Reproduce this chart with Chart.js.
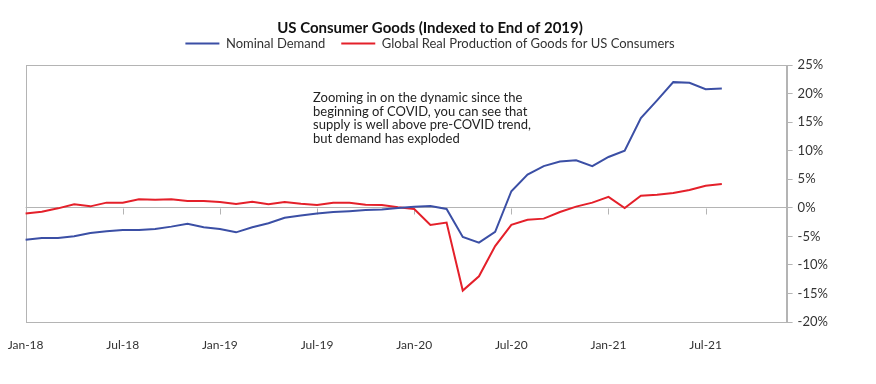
<!DOCTYPE html>
<html>
<head>
<meta charset="utf-8">
<script src="https://cdn.jsdelivr.net/npm/chart.js@4.4.1/dist/chart.umd.min.js"></script>
<style>
  html, body { margin: 0; padding: 0; background: #fff; }
  #wrap { width: 876px; height: 384px; }
</style>
</head>
<body>
<div id="wrap"><canvas id="c" width="876" height="384"></canvas></div>
<script>
// Monthly categories Jan-18 .. Dec-21 (axis extends past the data)
const months = ['Jan','Feb','Mar','Apr','May','Jun','Jul','Aug','Sep','Oct','Nov','Dec'];
const years = ['18','19','20','21'];
const categories = [];
years.forEach(y => months.forEach(m => categories.push(m + '-' + y)));

// Nominal Demand (% vs end of 2019), Jan-18 .. Aug-21
const nominalDemand = [
  -5.6, -5.3, -5.3, -5.0, -4.4, -4.1, -3.9, -3.9, -3.7, -3.3, -2.8, -3.4,
  -3.7, -4.3, -3.4, -2.7, -1.75, -1.35, -1.0, -0.75, -0.6, -0.4, -0.3, -0.05,
  0.2, 0.3, -0.2, -5.1, -6.1, -4.2, 2.9, 5.8, 7.3, 8.1, 8.3, 7.3,
  8.9, 10.0, 15.7, 18.8, 22.0, 21.9, 20.75, 20.9
];
// Global Real Production of Goods for US Consumers
const globalProduction = [
  -1.0, -0.7, -0.1, 0.6, 0.25, 0.9, 0.9, 1.5, 1.4, 1.5, 1.2, 1.2,
  1.0, 0.65, 1.05, 0.6, 1.0, 0.7, 0.5, 0.9, 0.9, 0.55, 0.5, 0.1,
  -0.2, -3.0, -2.6, -14.5, -12.0, -6.7, -3.0, -2.1, -1.9, -0.75, 0.2, 0.9,
  1.9, -0.05, 2.1, 2.3, 2.6, 3.1, 3.85, 4.15
];
const yTicks = [25, 20, 15, 10, 5, 0, -5, -10, -15, -20];
const labelEvery = 6;

const GRAY = '#b4b4b4';
const TEXT = '#333333';

const framePlugin = {
  id: 'frame',
  beforeDatasetsDraw(chart) {
    const { ctx, chartArea: a, scales } = chart;
    ctx.save();
    ctx.strokeStyle = GRAY;
    ctx.lineWidth = 1;
    ctx.strokeRect(Math.round(a.left) + 0.5, Math.round(a.top) + 0.5,
                   Math.round(a.right - a.left), Math.round(a.bottom - a.top));
    // ticks on the zero line for the x axis
    const y0 = Math.round(scales.y.getPixelForValue(0)) + 0.5;
    ctx.beginPath();
    for (let i = labelEvery; i < nominalDemand.length; i += labelEvery) {
      const x = Math.round(scales.x.getPixelForValue(i)) + 0.5;
      ctx.moveTo(x, y0);
      ctx.lineTo(x, y0 + 6);
    }
    ctx.stroke();
    ctx.restore();
  },
  afterDraw(chart) {
    const { ctx } = chart;
    ctx.save();
    ctx.fillStyle = '#222';
    ctx.font = '13px Lato';
    ctx.textBaseline = 'middle';
    const lines = [
      'Zooming in on the dynamic since the',
      'beginning of COVID, you can see that',
      'supply is well above pre-COVID trend,',
      'but demand has exploded'
    ];
    lines.forEach((t, k) => ctx.fillText(t, 313, 98 + k * 13.5));
    ctx.restore();
  }
};

new Chart(document.getElementById('c'), {
  type: 'line',
  data: {
    labels: categories,
    datasets: [
      {
        label: 'Nominal Demand',
        data: nominalDemand,
        xAxisID: 'x',
        yAxisID: 'y',
        borderColor: '#3b4fa5',
        backgroundColor: '#3b4fa5',
        borderWidth: 2,
        pointRadius: 0,
        tension: 0
      },
      {
        label: 'Global Real Production of Goods for US Consumers',
        data: globalProduction,
        xAxisID: 'x',
        yAxisID: 'y',
        borderColor: '#e4202a',
        backgroundColor: '#e4202a',
        borderWidth: 2,
        pointRadius: 0,
        tension: 0
      }
    ]
  },
  options: {
    responsive: false,
    animation: false,
    layout: { padding: { left: 0, right: 16, top: 0, bottom: 0 } },
    plugins: {
      title: {
        display: true,
        text: 'US Consumer Goods (Indexed to End of 2019)',
        color: '#111',
        font: { family: 'Lato', size: 15, weight: 'bold' },
        padding: { top: 19, bottom: -16 }
      },
      legend: {
        display: true,
        labels: {
          color: TEXT,
          font: { family: 'Lato', size: 13 },
          boxWidth: 34,
          boxHeight: 0,
          padding: 16
        }
      },
      tooltip: { enabled: false }
    },
    scales: {
      x2: {
        type: 'category',
        position: 'top',
        display: true,
        grid: { display: false },
        border: { display: false },
        ticks: { display: false },
        afterFit: s => { s.height = 5; }
      },
      x: {
        type: 'category',
        offset: false,
        grid: { display: false },
        border: { display: false },
        ticks: {
          autoSkip: false,
          maxRotation: 0,
          color: TEXT,
          font: { family: 'Lato', size: 12 },
          padding: 8,
          callback: (v, i) => (i % labelEvery === 0 ? categories[i] : '')
        },
        afterFit: s => { s.height = 62; s.paddingLeft = 0; s.paddingRight = 0; }
      },
      yLeft: {
        type: 'linear',
        position: 'left',
        display: true,
        grid: { display: false },
        border: { display: false },
        ticks: { display: false },
        afterFit: s => { s.width = 25.6; }
      },
      y: {
        position: 'right',
        min: -20,
        max: 25,
        afterBuildTicks: s => { s.ticks = yTicks.map(v => ({ value: v })); },
        grid: {
          color: c => (c.tick && c.tick.value === 0 ? GRAY : 'rgba(0,0,0,0)'),
          tickColor: GRAY,
          tickLength: 6,
          drawOnChartArea: true
        },
        border: { display: true, color: GRAY },
        ticks: {
          color: TEXT,
          font: { family: 'Lato', size: 13 },
          padding: 5,
          callback: v => v + '%'
        },
        afterFit: s => { s.width = 73.4; }
      }
    }
  },
  plugins: [framePlugin]
});
</script>
</body>
</html>
